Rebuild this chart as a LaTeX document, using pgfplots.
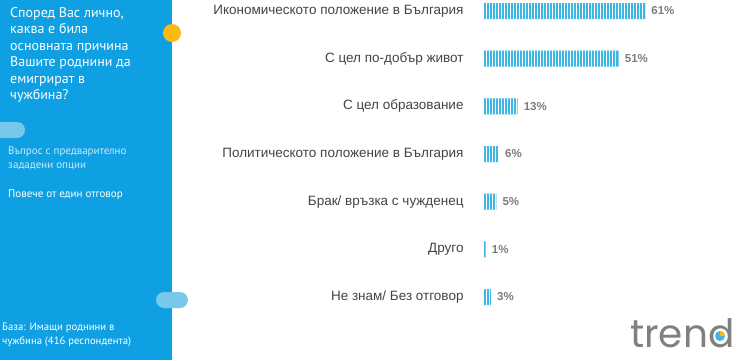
\documentclass[border=0pt]{standalone}
\usepackage{fontspec}
\setmainfont{Liberation Sans}
\newfontfamily\ptsans{PT Sans}
\newfontfamily\logofont{Poppins}
\usepackage{pgfplots}
\pgfplotsset{compat=1.18}
\usetikzlibrary{patterns.meta}
\definecolor{panelblue}{RGB}{14,160,226}
\definecolor{barblue}{RGB}{60,182,226}
\definecolor{pillblue}{RGB}{120,200,236}
\definecolor{sunyellow}{RGB}{253,184,19}
\definecolor{labelgray}{RGB}{68,68,68}
\definecolor{pctgray}{RGB}{125,125,125}
\definecolor{logogray}{RGB}{128,128,128}
\begin{document}
\begin{tikzpicture}[x=1pt,y=1pt]
\fill[white] (0,0) rectangle (740,360);
\fill[panelblue] (0,0) rectangle (172,360);
\fill[sunyellow] (172,327) circle (9);
\fill[pillblue] (0,222) -- (17,222) arc[start angle=-90,end angle=90,radius=8] -- (0,238) -- cycle;
\fill[pillblue, rounded corners=8] (156,52) rectangle (188,68);
\node[anchor=north west, align=left, text=white, font=\ptsans\fontsize{14}{16.5}\selectfont, inner sep=0] at (10,353) {Според Вас лично,\\каква е била\\основната причина\\Вашите роднини да\\емигрират в\\чужбина?};
\node[anchor=north west, align=left, text=white!78!panelblue, font=\ptsans\fontsize{11}{14}\selectfont, inner sep=0] at (8,213) {Въпрос с предварително\\зададени опции};
\node[anchor=north west, align=left, text=white, font=\ptsans\fontsize{11}{14}\selectfont, inner sep=0] at (8,170) {Повече от един отговор};
\node[anchor=north west, align=left, text=white, font=\ptsans\fontsize{10.7}{14}\selectfont, inner sep=0] at (2,37) {База: Имащи роднини в\\чужбина (416 респондента)};
\begin{axis}[at={(483pt,0pt)}, anchor=south west, scale only axis,
  width=252.7pt, height=360pt, xmin=0, xmax=95, ymin=-1.321, ymax=6.231,
  xbar, bar width=16pt, axis line style={draw=none}, tick style={draw=none},
  xtick=\empty, ytick={0,...,6},
  yticklabels={Не знам/ Без отговор, Друго, Брак/ връзка с чужденец, Политическото положение в България, С цел образование, С цел по-добър живот, Икономическото положение в България},
  yticklabel style={font=\fontsize{13.5}{15}\selectfont, text=labelgray, inner sep=0pt, xshift=-15pt},
  /pgf/number format/assume math mode=true,
  nodes near coords={\pgfmathprintnumber{\pgfplotspointmeta}\%},
  nodes near coords style={font=\bfseries\fontsize{11.5}{13}\selectfont, text=pctgray, anchor=west, inner sep=0pt, xshift=6pt},
  clip=false]
\addplot[draw=none, fill=barblue, postaction={pattern={Lines[angle=90,distance=3pt,line width=0.9pt]}, pattern color=white}] coordinates {(61,6) (51,5) (13,4) (6,3) (5,2) (1,1) (3,0)};
\end{axis}
\node[anchor=base west, text=logogray, font=\logofont\fontsize{39}{39}\selectfont, inner sep=0] at (630,13) {trend};
\fill[barblue] (720,24) circle (5);
\fill[sunyellow] (720,24) -- (720,29) arc[start angle=90,end angle=0,radius=5] -- cycle;
\pgfresetboundingbox
\path[use as bounding box] (0,0) rectangle (740,360);
\end{tikzpicture}
\end{document}
